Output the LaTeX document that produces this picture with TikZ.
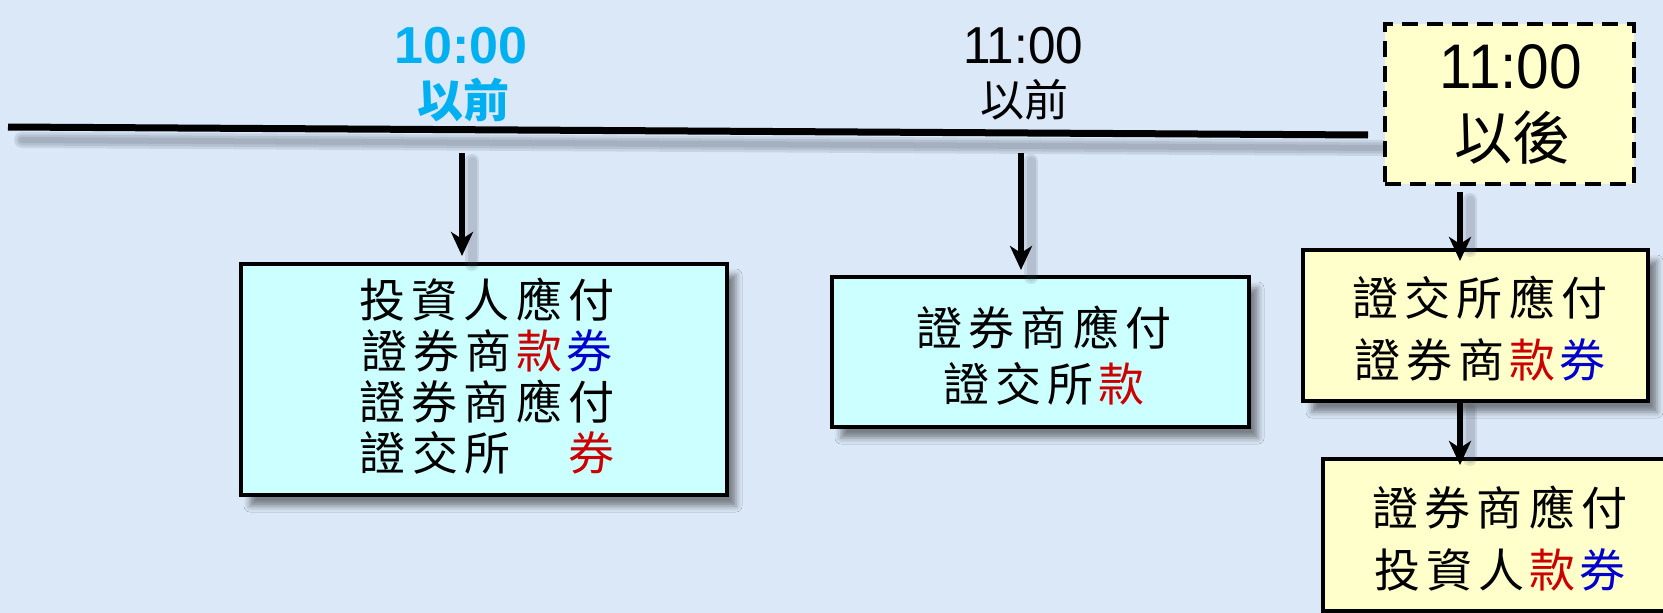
\documentclass[tikz,border=0pt]{standalone}
\usepackage{fontspec}
\setmainfont{Liberation Sans}
\newfontfamily\cjk{Noto Sans CJK TC}
\newfontfamily\cjkls[LetterSpace=14]{Noto Sans CJK TC}
\usetikzlibrary{arrows.meta,shadows.blur}
\definecolor{bgc}{RGB}{219,232,247}
\definecolor{boxcyan}{RGB}{204,255,255}
\definecolor{boxyellow}{RGB}{255,255,204}
\definecolor{labcyan}{RGB}{0,176,240}
\definecolor{kred}{RGB}{204,0,0}
\definecolor{kblue}{RGB}{0,0,204}
\definecolor{shc}{RGB}{60,70,85}
\newcommand{\R}[1]{\kern5pt{\color{kred}#1}}
\newcommand{\B}[1]{\kern4pt{\color{kblue}#1}}
\begin{document}
\begin{tikzpicture}[x=1pt,y=-1pt,
  every node/.style={inner sep=0pt,outer sep=0pt},
  infobox/.style={draw=black,line width=3.5pt,rectangle,
    blur shadow={shadow xshift=9pt,shadow yshift=-11pt,shadow blur radius=6pt,shadow opacity=45}},
  cyanbox/.style={infobox,fill=boxcyan},
  yellowbox/.style={infobox,fill=boxyellow},
  dashbox/.style={draw=black,line width=3.5pt,dash pattern=on 16pt off 9pt,fill=boxyellow,rectangle},
  arr/.style={line width=5.5pt,-{Stealth[length=24pt,width=22pt,inset=7pt]}},
  shline/.style={draw=shc,line width=#1,opacity=0.13,line cap=round},
  boxtext/.style={align=center,font=\cjkls\fontsize{46}{#1}\selectfont}
]
\fill[bgc] (0,0) rectangle (1663,613);
\useasboundingbox (0,0) rectangle (1663,613);
\clip (0,0) rectangle (1663,613);

% timeline
\coordinate (tl0) at (8,127);
\coordinate (tl1) at (1368,135);
\foreach \w in {16pt,11pt,6pt}{
  \draw[shline=\w] ([shift={(14,13)}]tl0) -- ([shift={(14,13)}]tl1);
}
\draw[line width=7pt] (tl0) -- (tl1);

% time labels
\node[text=labcyan,font=\bfseries\fontsize{52}{52}\selectfont] (t1) at (461,46) {10:00};
\node[text=labcyan,font=\cjk\bfseries\fontsize{46}{46}\selectfont] (t1b) at (463,100) {以前};
\node[font=\fontsize{52}{52}\selectfont,xscale=0.95] (t2) at (1023,46) {11:00};
\node[font=\cjk\fontsize{44}{44}\selectfont] (t2b) at (1024,100) {以前};

% dashed box
\node[dashbox,minimum width=249pt,minimum height=160pt] (d) at (1509.5,104) {};
\node[font=\fontsize{63}{63}\selectfont,xscale=0.93] (d1) at (1511,67) {11:00};
\node[font=\cjk\fontsize{58}{58}\selectfont] (d2) at (1512,138) {以後};

% boxes
\node[cyanbox,minimum width=486pt,minimum height=231pt] (b1) at (484,379.5) {};
\node[boxtext=51] (b1t) at (487,376) {投資人應付\\證券商\R{款}\B{券}\\證券商應付\\證交所　\R{券}};

\node[cyanbox,minimum width=417pt,minimum height=150pt] (b2) at (1040.5,352) {};
\node[boxtext=56] (b2t) at (1044,356) {證券商應付\\證交所\R{款}};

\node[yellowbox,minimum width=345pt,minimum height=151pt] (b3) at (1475.5,325.5) {};
\node[boxtext=62] (b3t) at (1480,329) {證交所應付\\證券商\R{款}\B{券}};

\node[yellowbox,minimum width=348pt,minimum height=152pt] (b4) at (1497,535) {};
\node[boxtext=62] (b4t) at (1500,539) {證券商應付\\投資人\R{款}\B{券}};

% arrows
\coordinate (a1s) at (462,153);
\coordinate (a2s) at (1021,153);
\coordinate (a3s) at (1460,192);
\coordinate (a4s) at (b3.south -| a3s);
\foreach \w in {14pt,9pt}{
  \draw[shline=\w] ([shift={(10,8)}]a1s) -- ([shift={(10,0)}]a1s |- b1.north);
  \draw[shline=\w] ([shift={(10,8)}]a2s) -- ([shift={(10,0)}]a2s |- b2.north);
  \draw[shline=\w] ([shift={(10,8)}]a3s) -- ([shift={(10,0)}]a3s |- b3.north);
  \draw[shline=\w] ([shift={(10,8)}]a4s) -- ([shift={(10,0)}]a4s |- b4.north);
}
\draw[arr,shorten >=8pt] (a1s) -- (a1s |- b1.north);
\draw[arr,shorten >=7pt] (a2s) -- (a2s |- b2.north);
\draw[arr,line width=6.5pt,shorten >=-11pt] (a3s) -- (a3s |- b3.north);
\draw[arr,line width=6.5pt,shorten >=-6pt] (a4s) -- (a4s |- b4.north);
\end{tikzpicture}
\end{document}
